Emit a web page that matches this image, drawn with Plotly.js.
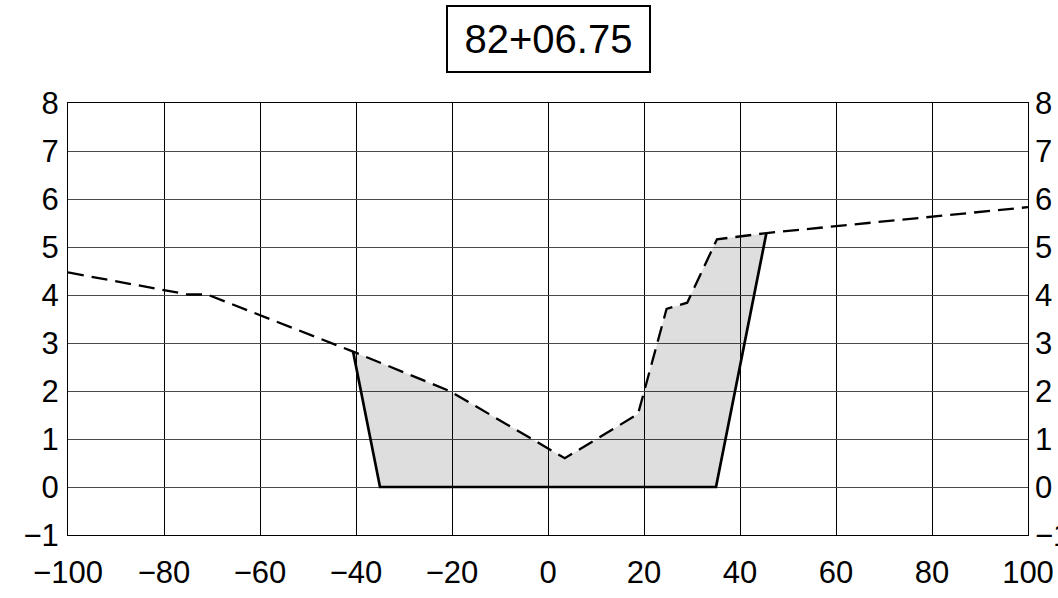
<!DOCTYPE html>
<html>
<head>
<meta charset="utf-8">
<script src="https://cdn.plot.ly/plotly-3.0.1.min.js"></script>
<style>html,body{margin:0;padding:0;background:#fff;}#chart{width:1058px;height:598px;}</style>
</head>
<body>
<div id="chart"></div>
<script>
// Station label
const stationLabel = "82+06.75";

// Existing ground profile (dashed)
const groundX = [-100, -75, -71, -40.6, -20.5, 3.5, 18.75, 24.7, 29.0, 35.2, 45.5, 100];
const groundY = [4.47, 4.01, 4.01, 2.82, 2.0, 0.6, 1.52, 3.71, 3.84, 5.16, 5.29, 5.83];

// Channel cut section (solid)
const cutX = [-40.6, -35, 35, 45.5];
const cutY = [2.82, 0, 0, 5.29];

// Axis ticks
const xTicks = [-100, -80, -60, -40, -20, 0, 20, 40, 60, 80, 100];
const yTicks = [-1, 0, 1, 2, 3, 4, 5, 6, 7, 8];

// Build fill polygon: cut line then ground points back between the cut ends
const x0 = cutX[0], x1 = cutX[cutX.length - 1];
const fillX = cutX.slice(), fillY = cutY.slice();
for (let i = groundX.length - 1; i >= 0; i--) {
  if (groundX[i] > x0 && groundX[i] < x1) { fillX.push(groundX[i]); fillY.push(groundY[i]); }
}
fillX.push(cutX[0]); fillY.push(cutY[0]);

const FONT = "Liberation Sans, Arial, sans-serif";

const traces = [
  { x: fillX, y: fillY, type: "scatter", mode: "lines", fill: "toself",
    fillcolor: "rgba(0,0,0,0.13)", line: { width: 0, color: "rgba(0,0,0,0)" },
    hoverinfo: "skip", showlegend: false },
  { x: groundX, y: groundY, type: "scatter", mode: "lines",
    line: { color: "#000", width: 2.3, dash: "16px,8px" }, showlegend: false },
  { x: cutX, y: cutY, type: "scatter", mode: "lines",
    line: { color: "#000", width: 2.7 }, showlegend: false },
  { x: [null], y: [null], yaxis: "y2", type: "scatter", mode: "lines", showlegend: false, hoverinfo: "skip" }
];

const axisCommon = {
  showline: true, linecolor: "#000", linewidth: 1, zeroline: false,
  ticks: "", tickfont: { family: FONT, size: 31, color: "#000" }
};

const layout = {
  width: 1058, height: 598,
  margin: { l: 68, r: 30, t: 103, b: 63, pad: 0 },
  paper_bgcolor: "#fff", plot_bgcolor: "#fff",
  showlegend: false,
  xaxis: Object.assign({}, axisCommon, {
    range: [-100, 100], tickvals: xTicks, mirror: true,
    showgrid: true, gridcolor: "#000", gridwidth: 1,
    ticklabelstandoff: 10
  }),
  yaxis: Object.assign({}, axisCommon, {
    range: [-1, 8], tickvals: yTicks, mirror: true,
    showgrid: true, gridcolor: "#4a4a4a", gridwidth: 1,
    ticklabelstandoff: 2
  }),
  yaxis2: Object.assign({}, axisCommon, {
    range: [-1, 8], tickvals: yTicks, overlaying: "y", side: "right",
    showgrid: false, showline: false, ticklabelstandoff: 6
  }),
  annotations: [{
    text: stationLabel, xref: "paper", yref: "paper",
    x: 0.5, y: 1 + (103 - 39) / 432, xanchor: "center", yanchor: "middle",
    showarrow: false, font: { family: FONT, size: 40, color: "#000" },
    bordercolor: "#000", borderwidth: 2, borderpad: 0,
    width: 201, height: 64, bgcolor: "#fff"
  }]
};

Plotly.newPlot("chart", traces, layout, { displayModeBar: false, staticPlot: true });
</script>
</body>
</html>
